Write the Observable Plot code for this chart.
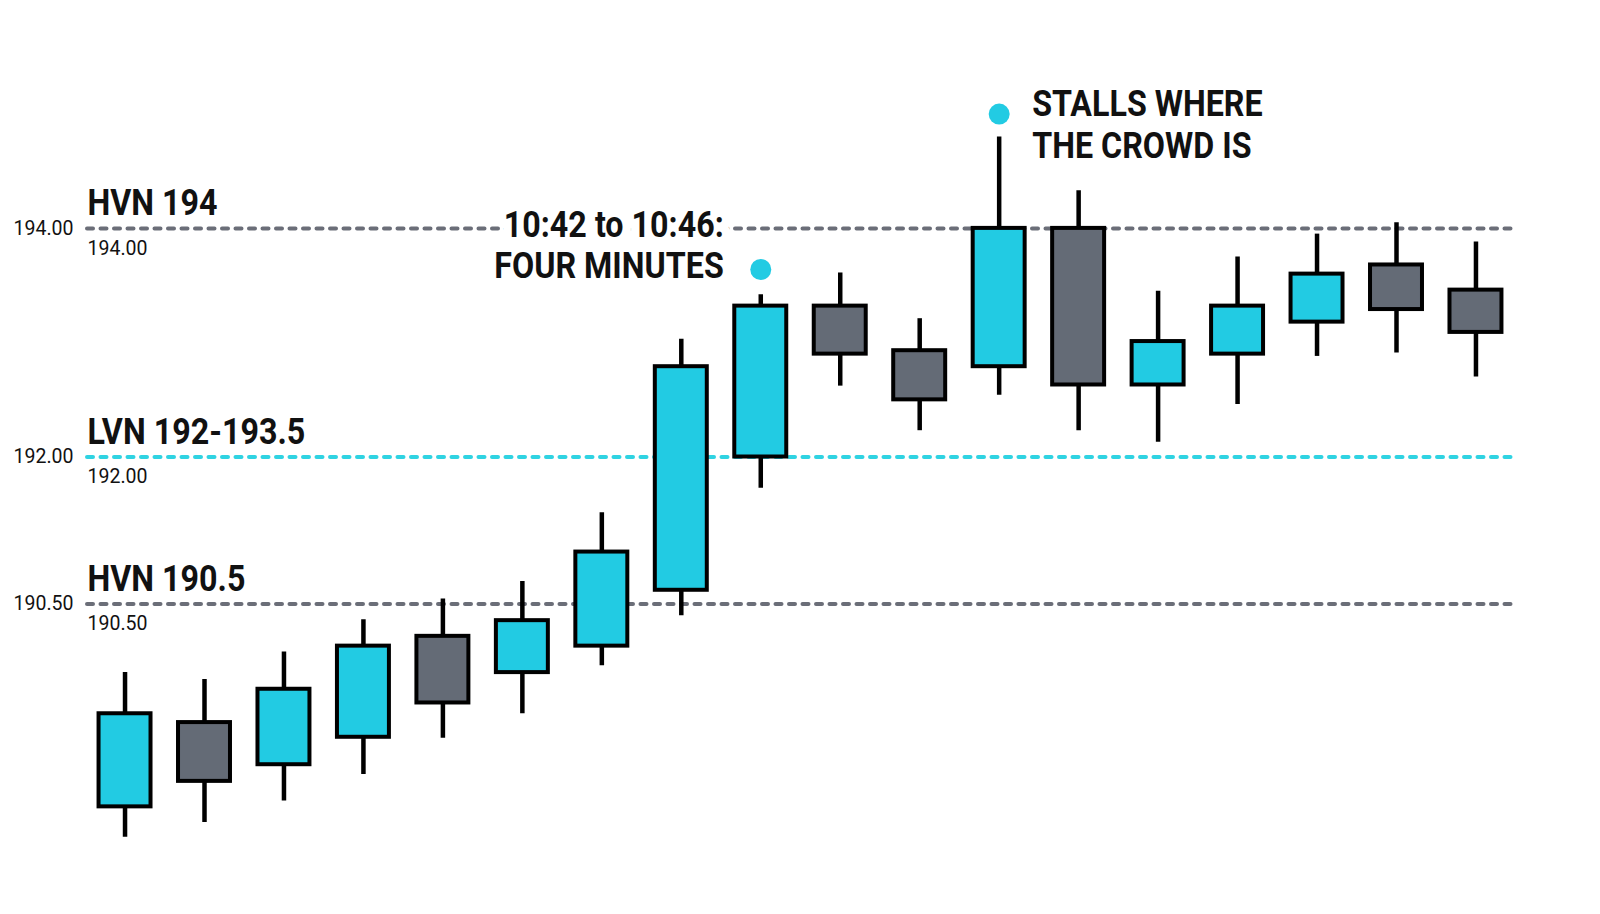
<!DOCTYPE html>
<html>
<head>
<meta charset="utf-8">
<script src="https://cdn.jsdelivr.net/npm/d3@7"></script>
<script src="https://cdn.jsdelivr.net/npm/@observablehq/plot@0.6"></script>
<style>
  html, body { margin: 0; padding: 0; background: #ffffff; }
  #chart { width: 1600px; height: 914px; }
</style>
</head>
<body>
<div id="chart"></div>
<script>
// ---- data ----
const candleIndex = d3.range(18);
const opens  = [188.43, 189.29, 188.86, 189.14, 190.17, 189.80, 190.07, 190.64, 192.00, 193.32, 192.93, 192.79, 194.00, 192.63, 192.90, 193.18, 193.68, 193.46];
const closes = [189.38, 188.69, 189.63, 190.07, 189.49, 190.33, 191.03, 192.79, 193.32, 192.90, 192.50, 194.00, 192.63, 193.01, 193.32, 193.60, 193.29, 193.09];
const highs  = [189.80, 189.73, 190.01, 190.34, 190.55, 190.73, 191.43, 193.03, 193.42, 193.61, 193.21, 194.80, 194.33, 193.45, 193.75, 193.95, 194.05, 193.88];
const lows   = [188.12, 188.27, 188.49, 188.76, 189.13, 189.38, 189.87, 190.38, 191.68, 192.62, 192.23, 192.54, 192.23, 192.13, 192.46, 192.88, 192.91, 192.70];

const levels      = [194, 192, 190.5];
const levelLabels = ["HVN 194", "LVN 192-193.5", "HVN 190.5"];
const levelKinds  = ["hvn", "lvn", "hvn"];

const markerIndex  = [8, 11];
const markerPrice  = [193.64, 195.0];
const annotText    = ["10:42 to 10:46:\nFOUR MINUTES", "STALLS WHERE\nTHE CROWD IS"];

// ---- styles ----
const CYAN = "#22cbe3";
const GREY = "#646b76";
const DASH_GREY = "#6b6e78";
const DASH_CYAN = "#2fd3e2";
const INK = "#111111";

const candles = candleIndex.map(i => ({i, open: opens[i], close: closes[i], high: highs[i], low: lows[i]}));
const levelRows = levels.map((v, k) => ({v, label: levelLabels[k], kind: levelKinds[k]}));
const markers = markerIndex.map((i, k) => ({i, p: markerPrice[k], text: annotText[k]}));

const fmt = d3.format(".2f");

const chart = Plot.plot({
  width: 1600,
  height: 914,
  marginLeft: 87,
  marginRight: 85,
  marginTop: 0,
  marginBottom: 0,
  style: {fontFamily: "Roboto, 'Noto Sans', sans-serif", background: "#ffffff", color: INK},
  x: {type: "band", domain: candleIndex, range: [84.8, 1515.2], paddingInner: 0.346, paddingOuter: 0.173, round: false, axis: null},
  y: {type: "linear", domain: [190.5, 192, 195], range: [603.5, 456.5, 113.6], axis: null},
  marks: [
    // level lines
    Plot.ruleY(levelRows, {
      y: "v",
      stroke: d => d.kind === "lvn" ? DASH_CYAN : DASH_GREY,
      strokeWidth: 4,
      strokeDasharray: "6,7.5",
      strokeLinecap: "round"
    }),
    // axis tick labels
    Plot.axisY({
      ticks: levels,
      tickFormat: fmt,
      tickSize: 0,
      tickPadding: 14,
      fontSize: 19.5,
      label: null,
      anchor: "left"
    }),
    // value labels under the lines
    Plot.text(levelRows, {
      y: "v",
      text: d => fmt(d.v),
      frameAnchor: "left",
      textAnchor: "start",
      dy: 20,
      fontSize: 19.5,
      fill: INK
    }),
    // level names above the lines
    Plot.text(levelRows, {
      y: "v",
      text: "label",
      frameAnchor: "left",
      textAnchor: "start",
      lineAnchor: "bottom",
      dy: -13,
      fontSize: 37.5,
      fontWeight: 700,
      fill: INK
    }),
    // wicks
    Plot.ruleX(candles, {x: "i", y1: "low", y2: "high", stroke: "#000", strokeWidth: 4.5}),
    // bodies
    Plot.barY(candles, {
      x: "i",
      y1: "open",
      y2: "close",
      fill: d => d.close >= d.open ? CYAN : GREY,
      stroke: "#000",
      strokeWidth: 4
    }),
    // markers
    Plot.dot(markers, {x: "i", y: "p", r: 10.5, fill: CYAN, stroke: null}),
    // annotations
    Plot.text([markers[0]], {
      x: "i",
      y: 194,
      text: "text",
      textAnchor: "end",
      lineAnchor: "top",
      lineHeight: 1.1,
      dx: -37,
      dy: -21,
      fontSize: 37.5,
      fontWeight: 700,
      fill: INK,
      stroke: "#ffffff",
      strokeWidth: 20
    }),
    Plot.text([markers[1]], {
      x: "i",
      y: "p",
      text: "text",
      textAnchor: "start",
      lineAnchor: "top",
      lineHeight: 1.1,
      dx: 33,
      dy: -27,
      fontSize: 37.5,
      fontWeight: 700,
      fill: INK
    })
  ]
});

document.getElementById("chart").appendChild(chart);

// condense the large bold labels horizontally (the reference uses a condensed face)
chart.querySelectorAll("text").forEach(el => {
  const fs = parseFloat(getComputedStyle(el).fontSize);
  if (fs > 30) {
    const t = el.getAttribute("transform");
    if (t) {
      el.setAttribute("transform", t + " scale(0.86,1)");
    } else {
      const x = el.getAttribute("x") || 0, y = el.getAttribute("y") || 0;
      el.setAttribute("transform", `translate(${x},${y}) scale(0.86,1)`);
      el.removeAttribute("x"); el.removeAttribute("y");
    }
  }
});
</script>
</body>
</html>
